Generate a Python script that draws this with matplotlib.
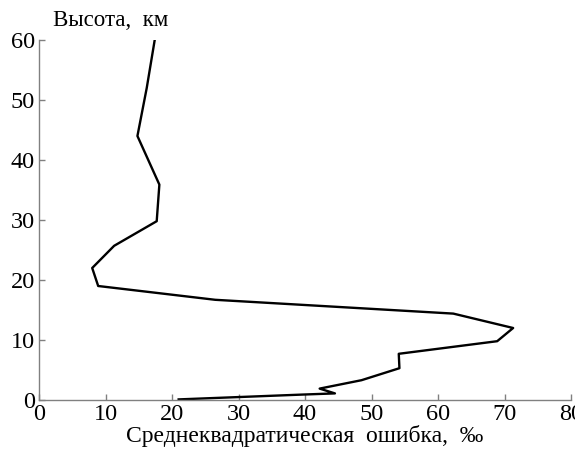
import matplotlib.pyplot as plt

# профиль среднеквадратической ошибки по высоте
err = [21.0, 39.5, 44.5, 42.2, 48.5, 54.2, 54.1, 68.9, 71.3, 62.3, 26.5, 8.9, 8.0, 11.3, 17.7, 18.1, 14.8, 16.2, 17.4]
alt = [0.1, 0.9, 1.1, 1.9, 3.3, 5.3, 7.7, 9.8, 12.0, 14.4, 16.7, 19.0, 22.0, 25.7, 29.8, 35.9, 44.0, 52.0, 60.0]

xticks = [0, 10, 20, 30, 40, 50, 60, 70, 80]
yticks = [0, 10, 20, 30, 40, 50, 60]

plt.rcParams['font.family'] = ['Liberation Serif', 'DejaVu Serif']

fig = plt.figure(figsize=(5.75, 4.51), dpi=100)
ax = fig.add_axes([39 / 575, 51 / 451, 532 / 575, 360 / 451])

ax.plot(err, alt, color='black', lw=1.7)

ax.set_xlim(0, 80)
ax.set_ylim(0, 60)
ax.set_xticks(xticks)
ax.set_yticks(yticks)

for s in ['top', 'right']:
    ax.spines[s].set_visible(False)
for s in ['left', 'bottom']:
    ax.spines[s].set_color('#808080')
    ax.spines[s].set_linewidth(1.0)

ax.tick_params(direction='in', length=4, width=1, color='#808080',
               labelsize=17.5)
ax.tick_params(axis='x', pad=3)
ax.tick_params(axis='y', pad=3)

ax.set_xlabel('Среднеквадратическая  ошибка,  ‰', fontsize=17, labelpad=0)
fig.text(53 / 575, 1 - 21 / 451, 'Высота,  км', fontsize=16.5, va='center', ha='left')

fig.savefig('out.png', dpi=100)
